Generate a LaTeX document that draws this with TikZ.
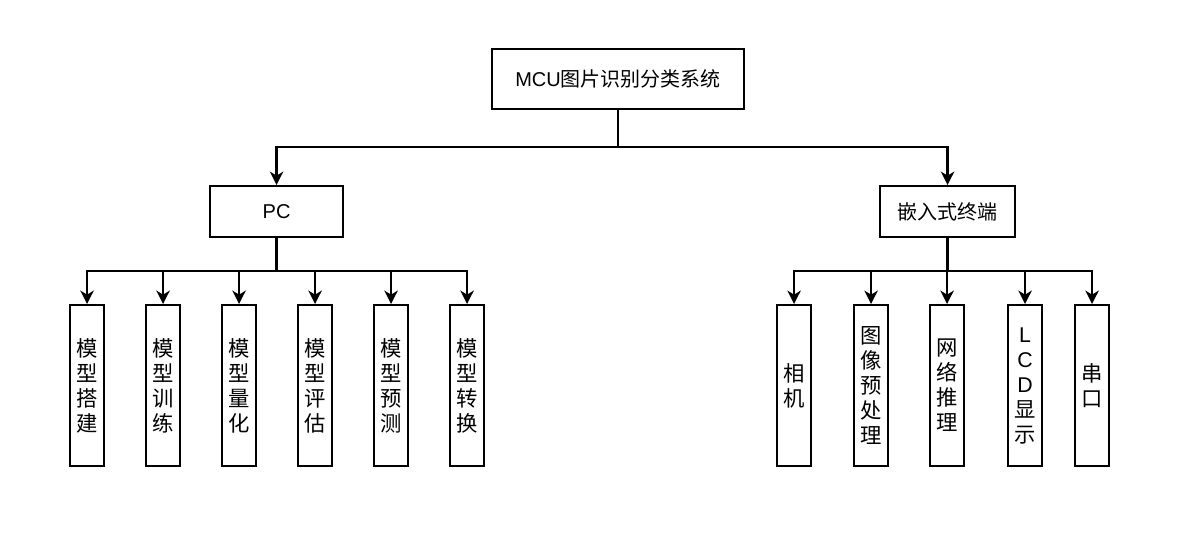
\documentclass[tikz,border=0pt]{standalone}
\usepackage{fontspec}
\setmainfont{Liberation Sans}
\newfontfamily\cjk{Noto Sans CJK SC}
\usetikzlibrary{arrows.meta}
\begin{document}
\begin{tikzpicture}[x=0.75pt,y=-0.75pt,
  box/.style={draw=black,line width=1.6pt,fill=white,inner sep=0pt,anchor=north west},
  leaf/.style={box,align=center,font=\fontsize{16}{18.75}\selectfont\cjk},
  conn/.style={line width=1.7pt,-{Stealth[length=10pt,width=10pt,inset=3pt]}},
  wire/.style={line width=1.7pt}]
\useasboundingbox[fill=white] (0,0) rectangle (1203,550);
% top
\node[box,minimum width=252*0.75pt,minimum height=60*0.75pt,font=\fontsize{15}{18}\selectfont] (root) at (491,48) {MCU{\cjk 图片识别分类系统}};
\node[box,minimum width=133*0.75pt,minimum height=51*0.75pt,font=\fontsize{15}{18}\selectfont] (pc) at (209,185) {PC};
\node[box,minimum width=135*0.75pt,minimum height=51*0.75pt,font=\fontsize{15}{18}\selectfont\cjk] (emb) at (879,185) {嵌入式终端};
% left leaves
\foreach \n/\x/\t in {l1/69/模\\型\\搭\\建, l2/145/模\\型\\训\\练, l3/221/模\\型\\量\\化, l4/297/模\\型\\评\\估, l5/373/模\\型\\预\\测, l6/449/模\\型\\转\\换}
  \node[leaf,minimum width=34*0.75pt,minimum height=161*0.75pt] (\n) at (\x,304) {\t};
% right leaves
\node[leaf,minimum width=34*0.75pt,minimum height=161*0.75pt] (r1) at (776,304) {相\\机};
\node[leaf,minimum width=34*0.75pt,minimum height=161*0.75pt] (r2) at (853,304) {图\\像\\预\\处\\理};
\node[leaf,minimum width=34*0.75pt,minimum height=161*0.75pt] (r3) at (929,304) {网\\络\\推\\理};
\node[leaf,minimum width=34*0.75pt,minimum height=161*0.75pt] (r4) at (1007,304) {{\fontspec{Liberation Sans}L}\\{\fontspec{Liberation Sans}C}\\{\fontspec{Liberation Sans}D}\\显\\示};
\node[leaf,minimum width=34*0.75pt,minimum height=161*0.75pt] (r5) at (1074,304) {串\\口};
% connectors
\draw[wire] (root.south) -- ++(0,37) coordinate (j0);
\draw[conn] (j0) -| (pc.north);
\draw[conn] (j0) -| (emb.north);
\draw[wire] (pc.south) -- ++(0,33) coordinate (jl);
\foreach \n in {l1,l2,l3,l4,l5,l6} \draw[conn] (jl) -| (\n.north);
\draw[wire] (emb.south) -- ++(0,33) coordinate (jr);
\foreach \n in {r1,r2,r3,r4,r5} \draw[conn] (jr) -| (\n.north);
\end{tikzpicture}
\end{document}
